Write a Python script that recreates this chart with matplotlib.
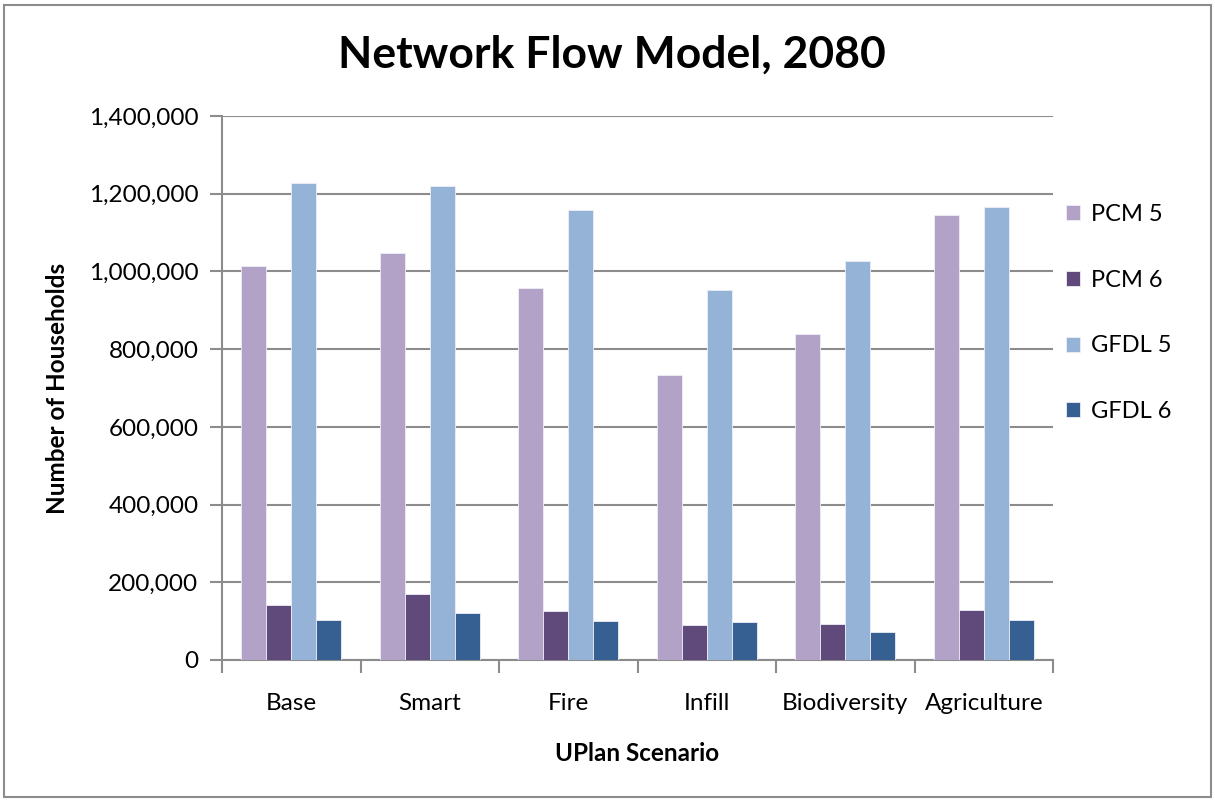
import numpy as np
import matplotlib
matplotlib.use("Agg")
import matplotlib.pyplot as plt
from matplotlib.patches import Rectangle
from matplotlib.ticker import FuncFormatter, MultipleLocator

# Chart data
scenarios = ["Base", "Smart", "Fire", "Infill", "Biodiversity", "Agriculture"]
series_names = ["PCM 5", "PCM 6", "GFDL 5", "GFDL 6"]
pcm5 = [1014000, 1047000, 957000, 733000, 838000, 1145000]
pcm6 = [141000, 170000, 127000, 90000, 92000, 129000]
gfdl5 = [1227000, 1221000, 1157000, 952000, 1028000, 1166000]
gfdl6 = [104000, 122000, 101000, 97000, 72000, 103000]
colors = ["#B3A2C7", "#604A7B", "#95B3D7", "#376092"]

plt.rcParams['font.family'] = ['Lato', 'DejaVu Sans']

fig = plt.figure(figsize=(12.15, 8.01), dpi=100)
ax = fig.add_axes([222 / 1215, 1 - 660 / 801, (1053 - 222) / 1215, (660 - 116) / 801])

# Grouped bars
x = np.arange(len(scenarios))
bar_w = 0.18
for i, (name, vals) in enumerate(zip(series_names, [pcm5, pcm6, gfdl5, gfdl6])):
    offset = (i - 1.5) * bar_w
    ax.bar(x + offset, vals, width=bar_w, color=colors[i], label=name,
           edgecolor="#EEEEF5", linewidth=0.6, zorder=3)

# Axes styling
ax.set_xlim(-0.5, len(scenarios) - 0.5)
ax.set_ylim(0, 1400000)
ax.yaxis.set_major_locator(MultipleLocator(200000))
ax.yaxis.set_major_formatter(FuncFormatter(lambda v, p: f"{int(v):,}"))
ax.grid(axis="y", color="#8C8C8C", linewidth=1.5, zorder=0)

for side in ["top", "right"]:
    ax.spines[side].set_visible(False)
for side in ["left", "bottom"]:
    ax.spines[side].set_color("#8C8C8C")
    ax.spines[side].set_linewidth(1.5)

ax.set_xticks(x)
ax.set_xticklabels(scenarios)
ax.set_xticks(np.arange(-0.5, len(scenarios)), minor=True)
ax.tick_params(axis="x", which="major", length=0, pad=24, labelsize=17.5)
ax.tick_params(axis="x", which="minor", length=9, width=1.5, color="#8C8C8C")
ax.tick_params(axis="y", length=9, width=1.5, color="#8C8C8C", pad=8, labelsize=17.5)

ax.set_xlabel("UPlan Scenario", fontsize=17.5, fontweight="bold", labelpad=20)
ax.set_ylabel("Number of Households", fontsize=17.5, fontweight="bold", labelpad=14)
fig.text(612 / 1215, 1 - 55 / 801, "Network Flow Model, 2080",
         fontsize=32, fontweight="bold", ha="center", va="center")

# Legend on the right, widely spaced
ax.legend(loc="upper left", bbox_to_anchor=(0.99, 0.877), frameon=False,
          fontsize=17, labelspacing=1.89, handlelength=0.6, handleheight=0.6,
          handletextpad=0.45)

# Outer chart border
fig.patches.append(Rectangle((4 / 1215, 4 / 801), 1207 / 1215, 792 / 801,
                             transform=fig.transFigure, fill=False,
                             edgecolor="#8C8C8C", linewidth=1.5))

fig.savefig("out.png", dpi=100)
